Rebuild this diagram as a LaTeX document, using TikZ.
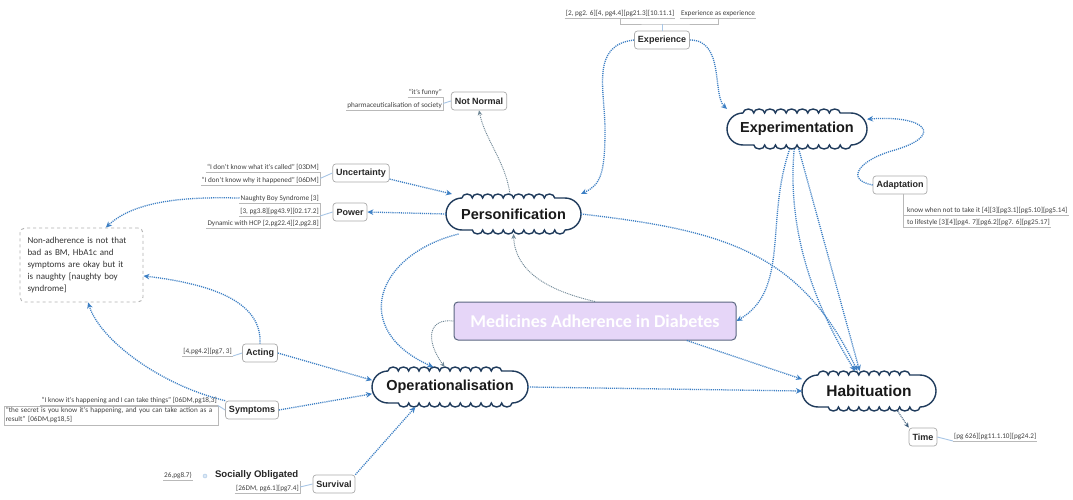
\documentclass[tikz,border=0pt]{standalone}
\usepackage{fontspec}
\setmainfont{Carlito}
\newfontfamily\arialfont{Liberation Sans}
\usetikzlibrary{arrows.meta,decorations.pathmorphing,calc}
\definecolor{cblue}{HTML}{3C7FC4}
\definecolor{cgray}{HTML}{6F8796}
\definecolor{cnavy}{HTML}{1F3B5C}
\definecolor{clav}{HTML}{E6D6F8}
\definecolor{clavb}{HTML}{5B6781}
\definecolor{clight}{HTML}{A8C6E6}
\definecolor{ctext}{HTML}{404040}
\definecolor{cdark}{HTML}{3A5A78}
\newcommand{\cloudit}[2]{%
  \draw[cloudline, decorate, decoration={bumps,segment length=#2pt,amplitude=4pt}]
    ($(#1.north west)+(16pt,-4pt)$) -- ($(#1.north east)+(-16pt,-4pt)$);
  \draw[cloudline] ($(#1.north east)+(-16pt,-4pt)$) arc[start angle=90,end angle=-90,radius=16pt];
  \draw[cloudline, decorate, decoration={bumps,segment length=#2pt,amplitude=4pt}]
    ($(#1.south east)+(-16pt,4pt)$) -- ($(#1.south west)+(16pt,4pt)$);
  \draw[cloudline] ($(#1.south west)+(16pt,4pt)$) arc[start angle=270,end angle=90,radius=16pt];}
\begin{document}
\begin{tikzpicture}[x=1pt,y=-1pt,
  cloudline/.style={draw=cnavy, line width=1.4pt},
  main/.style={font=\arialfont\bfseries\fontsize{14.5}{17}\selectfont, text=black!90, minimum height=32pt, inner sep=0pt, outer xsep=0pt, outer ysep=4pt},
  topic/.style={draw=gray!65, fill=white, rounded corners=3pt, line width=0.7pt, font=\arialfont\bfseries\fontsize{9}{11}\selectfont, text=black!85, minimum height=18pt, inner xsep=3.5pt, inner ysep=2pt},
  lbl/.style={font=\fontsize{7.2}{8.6}\selectfont, text=ctext, inner xsep=1pt, inner ysep=1.5pt},
  uline/.style={draw=gray!55, line width=0.6pt},
  lb/.style={draw=clight, line width=0.9pt},
  conn/.style={draw=cblue, line width=1.3pt, dash pattern=on 1.1pt off 1pt, -{Stealth[length=6pt,width=5.5pt]}},
  gconn/.style={draw=cgray, line width=0.9pt, dash pattern=on 1pt off 0.9pt, -{Stealth[length=5pt,width=4.5pt]}},
  dconn/.style={draw=cdark, line width=1pt, dash pattern=on 1pt off 0.9pt, -{Stealth[length=5pt,width=4.5pt]}}
]
\useasboundingbox[fill=white] (0,0) rectangle (1073,500);

% main topics
\node[main, minimum width=135pt] (pers) at (513.5,214) {Personification};
\node[main, minimum width=140pt] (expm) at (797,129) {Experimentation};
\node[main, minimum width=156pt] (op) at (450,387) {Operationalisation};
\node[main, minimum width=134pt, font=\arialfont\bfseries\fontsize{15.5}{18}\selectfont] (hab) at (869,391) {Habituation};
\cloudit{pers}{20.59}
\cloudit{expm}{21.59}
\cloudit{op}{20.66}
\cloudit{hab}{20.39}

\node[draw=clavb, fill=clav, rounded corners=4pt, line width=1pt, minimum width=282pt, minimum height=38pt, font=\bfseries\fontsize{18}{21}\selectfont, text=white] (med) at (595,321) {Medicines Adherence in Diabetes};

% sub topics
\node[topic] (exp) at (662,40) {Experience};
\node[topic] (nn) at (479,101) {Not Normal};
\node[topic] (unc) at (361,173) {Uncertainty};
\node[topic] (pow) at (350,212) {Power};
\node[topic] (adp) at (900,185) {Adaptation};
\node[topic] (act) at (260,353) {Acting};
\node[topic] (sym) at (252,410) {Symptoms};
\node[topic] (surv) at (334,484) {Survival};
\node[topic] (time) at (923,437) {Time};

\node[draw=gray!60, dashed, rounded corners=5pt, line width=0.9pt, minimum width=123pt, minimum height=74pt, text width=108pt, align=left, inner sep=6pt, font=\fontsize{9}{12}\selectfont, text=black!80] (nonad) at (81.5,265) {Non-adherence is not that\\bad as BM, HbA1c and\\symptoms are okay but it\\is naughty [naughty boy\\syndrome]};

% labels: Experience
\node[lbl, anchor=south] (e1) at (620,18.5) {[2, pg2. 6][4, pg4.4][pg21.3][10.11.1]};
\node[lbl, anchor=south] (e2) at (718,18.5) {Experience as experience};
\coordinate (eb) at (662,24);
\draw[uline] (e1.south west) -- (e1.south east);
\draw[uline] (e2.south west) -- (e2.south east);
\draw[uline] (e1.south) |- (eb) -| (e2.south);
\draw[lb] (eb) -- (exp.north);

% labels: Not Normal
\node[lbl, anchor=south east] (nn1) at (443,97) {“it’s funny”};
\node[lbl, anchor=south east] (nn2) at (443,110) {pharmaceuticalisation of society};
\draw[uline] (nn1.south west) -- (nn1.south east) -- (nn2.south east) -- (nn2.south west);
\draw[lb] ($(nn1.south east)!0.5!(nn2.south east)$) -- (nn.west);

% labels: Uncertainty
\node[lbl, anchor=south east] (u1) at (320,172) {“I don’t know what it’s called” [03DM]};
\node[lbl, anchor=south east] (u2) at (320,185) {“I don’t know why it happened” [06DM]};
\draw[uline] (u1.south west) -- (u1.south east) -- (u2.south east) -- (u2.south west);
\draw[lb] ($(u1.south east)!0.5!(u2.south east)$) -- (unc.west);

% labels: Power
\node[lbl, anchor=south east] (p1) at (320,203) {Naughty Boy Syndrome [3]};
\node[lbl, anchor=south east] (p2) at (320,216) {[3, pg3.8][pg43.9][02.17.2]};
\node[lbl, anchor=south east] (p3) at (320,228) {Dynamic with HCP [2,pg22.4][2,pg2.8]};
\draw[uline] (p1.south west) -- (p1.south east) -- (p3.south east) -- (p3.south west);
\draw[uline] (p2.south west) -- (p2.south east);
\draw[lb] (p2.south east) -- (pow.west);

% labels: Adaptation
\node[lbl, anchor=south west] (a1) at (906,215) {know when not to take it [4][3][pg3.1][pg5.10][pg5.14]};
\node[lbl, anchor=south west] (a2) at (906,227) {to lifestyle [3][4][pg4. 7][pg6.2][pg7. 6][pg25.17]};
\draw[uline] (adp.south -| 903,0) -- (903,227) -- (a2.south east);
\draw[uline] (903,215) -- (a1.south east);

% labels: Acting
\node[lbl, anchor=south east] (al) at (233,356) {[4,pg4.2][pg7, 3]};
\draw[uline] (al.south west) -- (al.south east);
\draw[lb] (al.south east) -- (act.west);

% labels: Symptoms
\node[lbl, anchor=south east] (s1) at (218,405.5) {“I know it’s happening and I can take things” [06DM,pg18,3]};
\node[lbl, draw=gray!55, anchor=north east, text width=210pt, align=left, inner sep=2pt] (s2) at (218,405.5) {“the secret is you know it’s happening, and you can take action as a\\result” [06DM,pg18,5]};
\draw[uline] (s1.south west) -- (s1.south east);
\draw[lb] (s2.north east) -- (sym.west);

% labels: Survival
\node[lbl, anchor=south east] (sv1) at (193,480) {26,pg8.7)};
\draw[uline] (sv1.south west) -- (sv1.south east);
\node[draw=clight, fill=clight!40, circle, inner sep=0pt, minimum size=4pt] (dot) at (205,476) {};
\node[font=\arialfont\bfseries\fontsize{9.6}{11}\selectfont, text=black!85, anchor=south east, inner sep=1.5pt] (so) at (300,481) {Socially Obligated};
\node[lbl, anchor=south east] (sv2) at (300,493) {[26DM, pg6.1][pg7.4]};
\draw[uline] (sv2.south west) -- (sv2.south east) -- (so.south east);
\draw[lb] ($(so.south east)!0.5!(sv2.south east)$) -- (surv.west);

% labels: Time
\node[lbl, anchor=south west] (tl) at (953,441) {[pg 626][pg11.1.10][pg24.2]};
\draw[uline] (tl.south west) -- (tl.south east);
\draw[lb] (time.east) -- (tl.south west);

% connectors
\draw[gconn] (pers.100) .. controls (505,160) and (485,140) .. (nn.south);
\draw[conn] (unc.-12) -- (pers.162);
\draw[conn] (pers.west) -- (pow.east);
\draw[conn] (p1.west) .. controls (170,196) and (130,205) .. (nonad.57);
\draw[conn] (exp.west) .. controls (590,45) and (605,90) .. (605,130) .. controls (605,175) and (600,185) .. (pers.north east);
\draw[conn] (exp.east) .. controls (725,40) and (712,95) .. (expm.north west);
\draw[conn] (adp.west) .. controls (845,180) and (858,160) .. (895,150) .. controls (945,135) and (925,115) .. (expm.8);
\draw[conn] (pers.east) .. controls (720,230) and (800,250) .. (hab.120);
\draw[conn] (expm.250) .. controls (765,220) and (790,290) .. (med.east);
\draw[conn] (expm.275) -- (hab.115);
\draw[conn] (expm.262) .. controls (785,250) and (830,330) .. (hab.125);
\draw[gconn] (med.north) .. controls (545,290) and (515,270) .. (pers.south);
\draw[gconn] (med.west) .. controls (428,318) and (425,340) .. (op.105);
\draw[conn] (med.-12) -- (hab.170);
\draw[conn] (pers.200) .. controls (375,255) and (350,330) .. (op.130);
\draw[conn] (act.north) .. controls (262,305) and (220,285) .. (nonad.-10);
\draw[conn] (act.east) -- (op.175);
\draw[conn] (sym.north west) .. controls (160,385) and (100,340) .. (nonad.-80);
\draw[conn] (sym.east) -- (op.185);
\draw[conn] (surv.north east) -- (op.210);
\draw[conn] (op.east) -- (hab.west);
\draw[dconn] (hab.-35) -- (time.north west);
\end{tikzpicture}
\end{document}
